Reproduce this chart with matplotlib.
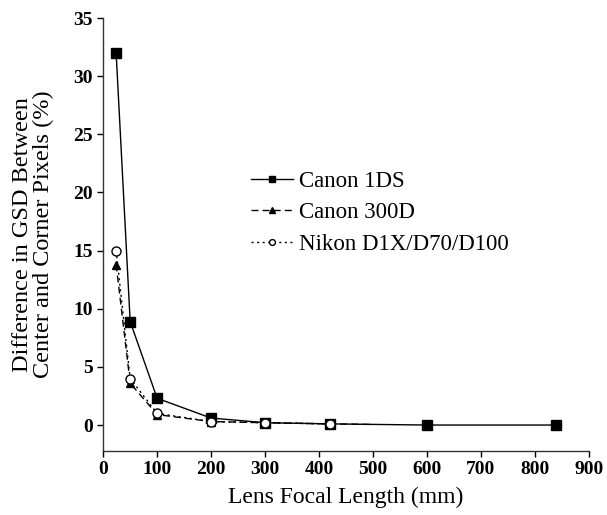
import matplotlib
matplotlib.use("Agg")
import matplotlib.pyplot as plt

# Dados
focal_1ds = [24, 50, 100, 200, 300, 420, 600, 840]
diff_1ds = [32.0, 8.9, 2.3, 0.6, 0.2, 0.1, 0.0, 0.0]

focal_300d = [24, 50, 100, 200, 300, 420, 500]
diff_300d = [13.8, 3.6, 0.9, 0.3, 0.2, 0.1, 0.05]

focal_nikon = [24, 50, 100, 200, 300, 420]
diff_nikon = [15.0, 4.0, 1.0, 0.3, 0.2, 0.1]

x_ticks = [0, 100, 200, 300, 400, 500, 600, 700, 800, 900]
y_ticks = [0, 5, 10, 15, 20, 25, 30, 35]

plt.rcParams['font.family'] = ['Liberation Serif', 'DejaVu Serif']

fig = plt.figure(figsize=(6.07, 5.15), dpi=100)
ax = fig.add_axes([0.17, 0.125, 0.80, 0.84])

ax.plot(focal_1ds, diff_1ds, color='black', lw=1.0, ls='-', marker='s',
        ms=7, mfc='black', mec='black', label='Canon 1DS')
ax.plot(focal_300d, diff_300d, color='black', lw=1.0, ls=(0, (5, 3)), marker='^',
        ms=6, mfc='black', mec='black', markevery=list(range(6)), label='Canon 300D')
ax.plot(focal_nikon, diff_nikon, color='black', lw=1.0, ls=(0, (1.5, 2.5)), marker='o',
        ms=6.5, mfc='white', mec='black', label='Nikon D1X/D70/D100')

ax.set_xlim(0, 900)
ax.set_ylim(-2.2, 35)
ax.set_xticks(x_ticks)
ax.set_yticks(y_ticks)
ax.tick_params(direction='out', length=4, width=1, labelsize=14)
for lbl in ax.get_xticklabels() + ax.get_yticklabels():
    lbl.set_fontweight('bold')

for s in ['top', 'right']:
    ax.spines[s].set_visible(False)
for s in ['left', 'bottom']:
    ax.spines[s].set_linewidth(1.0)
    ax.spines[s].set_color('#333333')

ax.set_xlabel('Lens Focal Length (mm)', fontsize=17, labelpad=6)
ax.set_ylabel('Difference in GSD Between\nCenter and Corner Pixels (%)', fontsize=17.5,
              labelpad=14, linespacing=1.0)

ax.legend(loc='center left', bbox_to_anchor=(0.305, 0.55), frameon=False, fontsize=16.5,
          handlelength=1.8, handletextpad=0.3, labelspacing=0.45, markerscale=0.65,
          borderpad=0, borderaxespad=0)

fig.savefig('out.png', dpi=100)
